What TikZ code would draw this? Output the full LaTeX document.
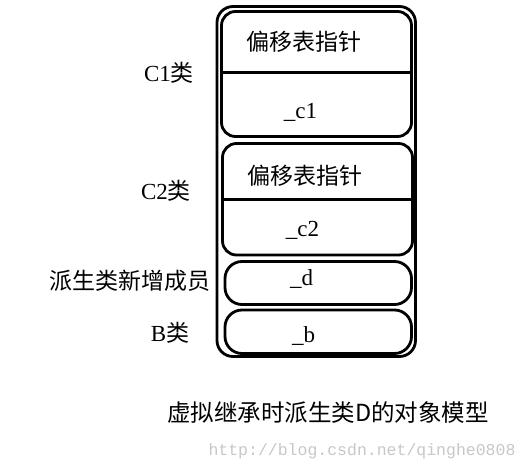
\documentclass[tikz,border=0pt]{standalone}
\usepackage{fontspec}
\setmainfont{Liberation Serif}
\newfontfamily\cjk{Noto Sans CJK SC}
\newfontfamily\wmfont{Liberation Mono}

\begin{document}
\begin{tikzpicture}[
    x=1pt, y=-1pt,
    frame/.style={draw, line width=2.8pt, rounded corners=16pt, inner sep=0pt},
    block/.style={draw, line width=2.8pt, rounded corners=14pt, inner sep=0pt},
    member/.style={draw, line width=2.8pt, rounded corners=17pt, inner sep=0pt},
    divider/.style={line width=2.8pt},
    label/.style={inner sep=0pt, font=\fontsize{23}{27}\selectfont},
    caption/.style={inner sep=0pt, font=\fontsize{23.5}{28}\selectfont\cjk},
    watermark/.style={inner sep=0pt, text=black!22, font=\fontsize{16.5}{19}\selectfont\wmfont}
]
\useasboundingbox (0,0) rectangle (528,472);

% Object frame
\node[frame, minimum width=198.5pt, minimum height=350pt] (object) at (316.25,181.5) {};

% Sub-objects
\node[block, minimum width=190pt, minimum height=125pt] (c1) at (316.5,74) {};
\node[block, minimum width=190pt, minimum height=111.5pt] (c2) at (317.5,199.25) {};
\node[member, minimum width=186.5pt, minimum height=43pt] (d) at (318.25,283) {};
\node[member, minimum width=186.5pt, minimum height=43.5pt] (b) at (318.25,331.75) {};

% Dividers
\draw[divider] ([yshift=1.5pt]c1.west) -- ([yshift=1.5pt]c1.east);
\draw[divider] (c2.west) -- (c2.east);

% Fields
\node[label] (vptr1) at (304,42) {\cjk 偏移表指针};
\node[label] (field1) at (300.5,112) {\_c1};
\node[label] (vptr2) at (305,176) {\cjk 偏移表指针};
\node[label] (field2) at (302.5,230) {\_c2};
\node[label] (field3) at (301.5,279) {\_d};
\node[label] (field4) at (303.5,336) {\_b};

% Side labels
\node[label] (lc1) at (169,73) {C1{\cjk 类}};
\node[label] (lc2) at (166,191) {C2{\cjk 类}};
\node[label] (lnew) at (130,281) {\cjk 派生类新增成员};
\node[label] (lb) at (170,333) {B{\cjk 类}};

% Caption
\node[caption] (title) at (328,413) {虚拟继承时派生类D的对象模型};
\node[watermark] (url) at (362,451) {http://blog.csdn.net/qinghe0808};

\end{tikzpicture}
\end{document}
